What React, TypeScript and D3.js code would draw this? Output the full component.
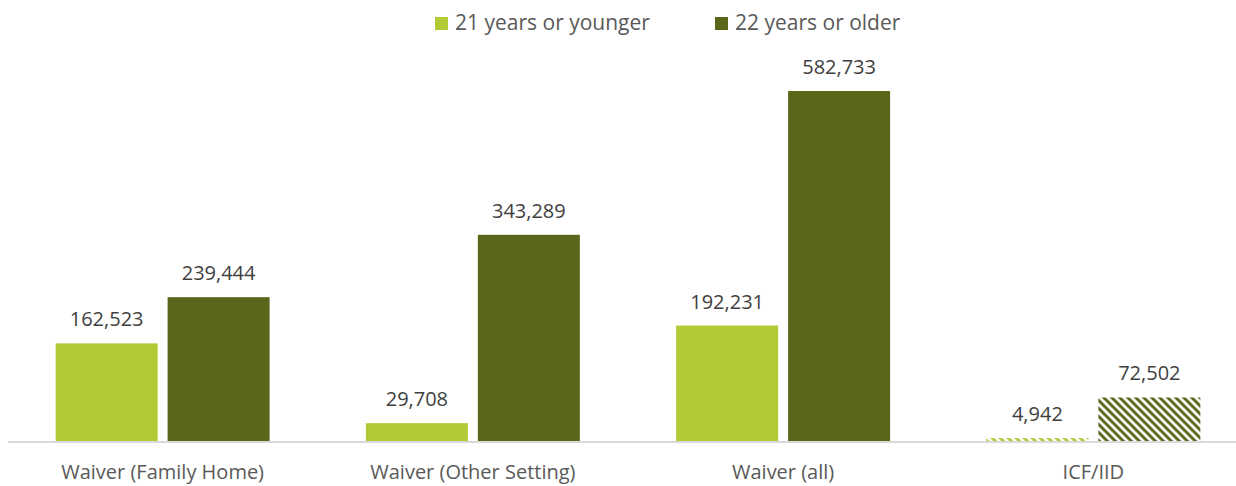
import React from "react";
import * as d3 from "d3";

const categories = ["Waiver (Family Home)", "Waiver (Other Setting)", "Waiver (all)", "ICF/IID"];
const seriesNames = ["21 years or younger", "22 years or older"];
const younger = [162523, 29708, 192231, 4942];
const older = [239444, 343289, 582733, 72502];
const hatched = [false, false, false, true];
const colors = ["#b3ca35", "#5a6619"];

const W = 1236;
const H = 486;
const baseY = 441;
const font = "'Open Sans', sans-serif";

export default function App() {
  const x0 = d3.scaleBand<string>().domain(categories).range([7.5, 1248.5]).paddingInner(0).paddingOuter(0);
  const x1 = d3.scaleBand<string>().domain(seriesNames).range([0, x0.bandwidth()]).paddingInner(0.089).paddingOuter(0.43);
  const y = d3.scaleLinear().domain([0, 700000]).range([baseY, baseY - 700000 * 0.0006006]);
  const fmt = d3.format(",");
  const vals = [younger, older];

  return (
    <svg width={W} height={H} style={{ position: "absolute", left: 0, top: 0, background: "#fff" }}>
      <defs>
        {colors.map((c, i) => (
          <pattern key={i} id={`hatch${i}`} width={8} height={8} patternUnits="userSpaceOnUse">
            <rect width={8} height={8} fill="#fff" />
            <path d="M-2,-2 L10,10 M-2,6 L2,10 M6,-2 L10,2" stroke={c} strokeWidth={3} />
          </pattern>
        ))}
      </defs>
      <line x1={8} x2={W} y1={baseY + 1} y2={baseY + 1} stroke="#d9d9d9" strokeWidth={2} />
      {categories.map((cat, ci) => (
        <g key={cat} transform={`translate(${x0(cat)},0)`}>
          {seriesNames.map((s, si) => {
            const v = vals[si][ci];
            const bx = x1(s)!;
            const bw = x1.bandwidth();
            const top = y(v);
            return (
              <g key={s}>
                <rect
                  x={bx}
                  y={top}
                  width={bw}
                  height={baseY - top}
                  fill={hatched[ci] ? `url(#hatch${si})` : colors[si]}
                />
                <text
                  x={bx + bw / 2}
                  y={top - 17}
                  textAnchor="middle"
                  fontFamily={font}
                  fontSize={20}
                  fill="#404040"
                >
                  {fmt(v)}
                </text>
              </g>
            );
          })}
          <text
            x={x0.bandwidth() / 2}
            y={479}
            textAnchor="middle"
            fontFamily={font}
            fontSize={20}
            fill="#595959"
          >
            {cat}
          </text>
        </g>
      ))}
      {seriesNames.map((s, i) => {
        const lx = [435, 715][i];
        return (
          <g key={s}>
            <rect x={lx} y={17} width={13} height={13} fill={colors[i]} />
            <text x={lx + 20} y={30} fontFamily={font} fontSize={21} fill="#595959">
              {s}
            </text>
          </g>
        );
      })}
    </svg>
  );
}
